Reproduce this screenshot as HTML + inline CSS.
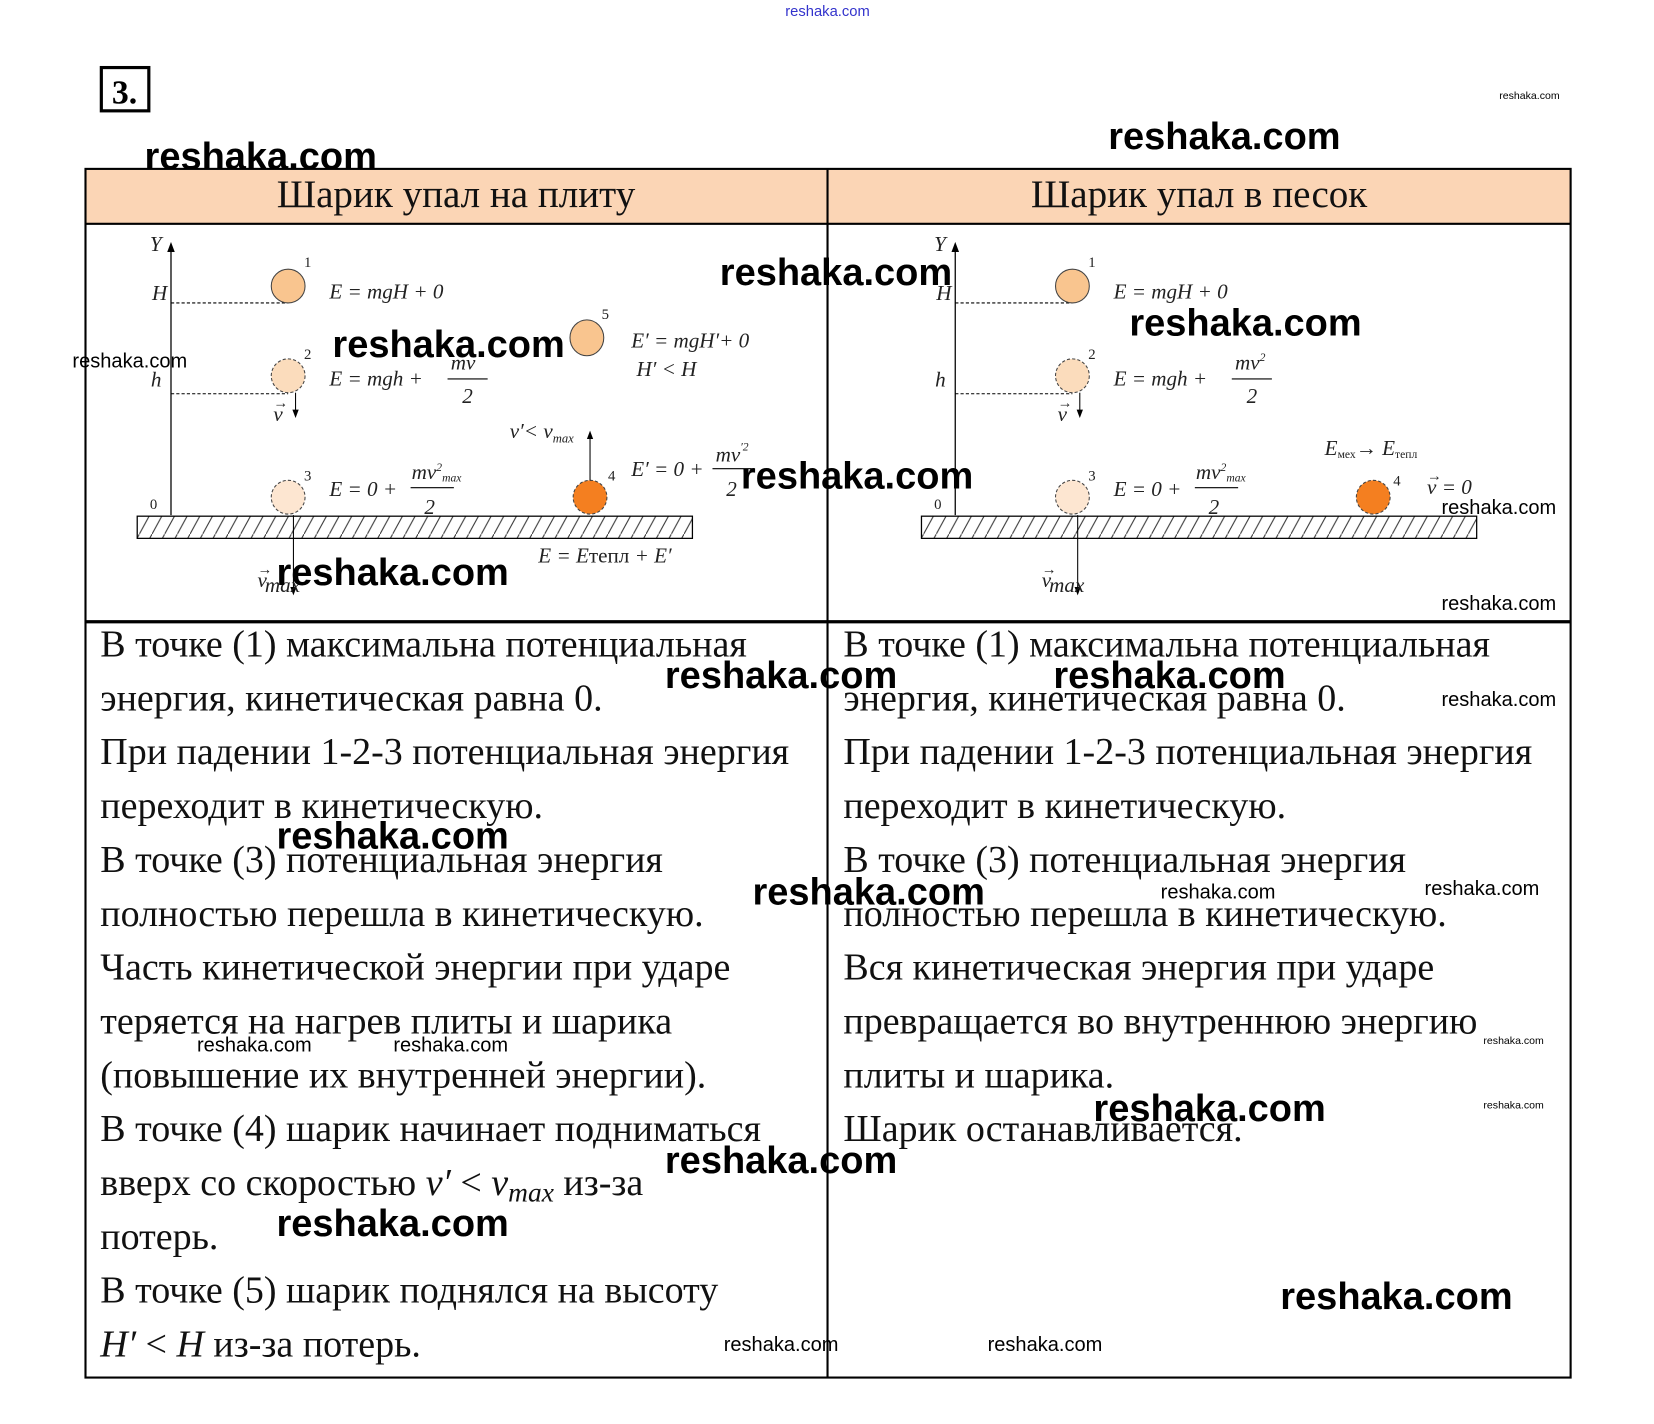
<!DOCTYPE html>
<html><head><meta charset="utf-8"><style>
html,body{margin:0;padding:0;background:#fff;}
svg{display:block;}
.t{font-family:"Liberation Serif",serif;font-size:36px;fill:#111;}
.h{font-family:"Liberation Serif",serif;font-size:37px;fill:#111;}
.m{font-family:"Liberation Serif",serif;font-style:italic;font-size:20px;fill:#222;}
.s{font-family:"Liberation Serif",serif;font-size:14px;fill:#222;}
.w{font-family:"Liberation Sans",sans-serif;font-weight:bold;font-size:36px;fill:#000;}
.ws{font-family:"Liberation Sans",sans-serif;font-size:19px;fill:#000;}
.wx{font-family:"Liberation Sans",sans-serif;font-size:10px;fill:#000;}
</style></head><body>
<svg width="1654" height="1424" viewBox="0 0 1567 1349" preserveAspectRatio="none" xmlns="http://www.w3.org/2000/svg">
<defs>
<pattern id="hat" width="12" height="22" patternUnits="userSpaceOnUse">
<line x1="0" y1="22" x2="12" y2="0" stroke="#333" stroke-width="1"/>
</pattern>
<marker id="ar" markerWidth="8" markerHeight="8" refX="4" refY="4" orient="auto"><path d="M0,1 L8,4 L0,7 z" fill="#000"/></marker>
</defs>
<text x="784" y="15" text-anchor="middle" font-family="Liberation Sans,sans-serif" font-size="14" fill="#3333cc">reshaka.com</text>
<rect x="96" y="64" width="45" height="41" fill="none" stroke="#000" stroke-width="3"/>
<text x="118" y="98" text-anchor="middle" font-family="Liberation Serif,serif" font-weight="bold" font-size="32">3.</text>
<text x="1449" y="94" text-anchor="middle" class="wx">reshaka.com</text>
<text x="1160" y="141" text-anchor="middle" class="w">reshaka.com</text>
<text x="247" y="160" text-anchor="middle" class="w">reshaka.com</text>
<!-- table -->
<rect x="81" y="161" width="1407" height="51" fill="#fbd5b5"/>
<rect x="81" y="160" width="1407" height="1145" fill="none" stroke="#000" stroke-width="2"/>
<line x1="81" y1="212" x2="1488" y2="212" stroke="#000" stroke-width="2"/>
<line x1="81" y1="589" x2="1488" y2="589" stroke="#000" stroke-width="3"/>
<line x1="784" y1="160" x2="784" y2="1305" stroke="#000" stroke-width="2"/>
<text x="432" y="196" text-anchor="middle" class="h">Шарик упал на плиту</text>
<text x="1136" y="196" text-anchor="middle" class="h">Шарик упал в песок</text>

<!-- left diagram -->
<g>
<line x1="162" y1="488" x2="162" y2="234" stroke="#000" stroke-width="1.2" marker-end="url(#ar)"/>
<text x="142" y="238" class="m">Y</text>
<text x="144" y="284" class="m" font-size="17">H</text>
<text x="143" y="366" class="m">h</text>
<text x="142" y="482" class="s" font-size="18">0</text>
<line x1="162" y1="287" x2="273" y2="287" stroke="#000" stroke-dasharray="3,2"/>
<line x1="162" y1="373" x2="273" y2="373" stroke="#000" stroke-dasharray="3,2"/>
<rect x="130" y="489" width="526" height="21" fill="url(#hat)" stroke="#000" stroke-width="1.2"/>
<ellipse cx="273" cy="271" rx="16" ry="16" fill="#f9c58f" stroke="#444"/>
<text x="288" y="253" class="s">1</text>
<ellipse cx="273" cy="356" rx="16" ry="16" fill="#fbdcbc" stroke="#444" stroke-dasharray="3,2"/>
<text x="288" y="340" class="s">2</text>
<line x1="280" y1="372" x2="280" y2="392" stroke="#000" marker-end="url(#ar)"/>
<text x="259" y="399" class="m" font-size="17">v</text><text x="259" y="386" class="s" font-size="12">→</text>
<ellipse cx="273" cy="471" rx="16" ry="16" fill="#fde6d1" stroke="#444" stroke-dasharray="3,2"/>
<text x="288" y="455" class="s">3</text>
<line x1="278" y1="488" x2="278" y2="560" stroke="#000" marker-end="url(#ar)"/>
<text x="244" y="556" class="m" font-size="15">v</text><text x="244" y="544" class="s" font-size="11">→</text><text x="251" y="561" class="m" font-size="10">max</text>
<ellipse cx="556" cy="320" rx="16" ry="17" fill="#f9c58f" stroke="#444"/>
<text x="570" y="302" class="s">5</text>
<ellipse cx="559" cy="471" rx="16" ry="16" fill="#f47f20" stroke="#444" stroke-dasharray="3,2"/>
<text x="576" y="455" class="s">4</text>
<line x1="559" y1="455" x2="559" y2="412" stroke="#000" marker-end="url(#ar)"/>
<text x="483" y="415" class="m">v′&lt; v<tspan font-size="12" dy="4">max</tspan></text>
<text x="312" y="283" class="m">E  = mgH + 0</text>
<text x="312" y="365" class="m">E  = mgh +</text>
<line x1="424" y1="359" x2="462" y2="359" stroke="#000"/>
<text x="427" y="350" class="m">mv</text>
<text x="438" y="382" class="m">2</text>
<text x="598" y="329" class="m">E′ = mgH′+ 0</text>
<text x="603" y="356" class="m">H′ &lt; H</text>
<text x="312" y="470" class="m">E  = 0 +</text>
<line x1="389" y1="462" x2="430" y2="462" stroke="#000"/>
<text x="390" y="454" class="m">mv<tspan font-size="11" dy="-8">2</tspan><tspan font-size="11" dy="10">max</tspan></text>
<text x="402" y="487" class="m">2</text>
<text x="598" y="451" class="m">E′ = 0 +</text>
<line x1="675" y1="444" x2="712" y2="444" stroke="#000"/>
<text x="678" y="437" class="m">mv<tspan font-size="11" dy="-10">′2</tspan></text>
<text x="688" y="470" class="m">2</text>
<text x="510" y="533" class="m">E = E<tspan font-style="normal">тепл</tspan> + E′</text>
</g>

<!-- right diagram -->
<g transform="translate(743,0)">
<line x1="162" y1="488" x2="162" y2="234" stroke="#000" stroke-width="1.2" marker-end="url(#ar)"/>
<text x="142" y="238" class="m">Y</text>
<text x="144" y="284" class="m" font-size="17">H</text>
<text x="143" y="366" class="m">h</text>
<text x="142" y="482" class="s" font-size="18">0</text>
<line x1="162" y1="287" x2="273" y2="287" stroke="#000" stroke-dasharray="3,2"/>
<line x1="162" y1="373" x2="273" y2="373" stroke="#000" stroke-dasharray="3,2"/>
<rect x="130" y="489" width="526" height="21" fill="url(#hat)" stroke="#000" stroke-width="1.2"/>
<ellipse cx="273" cy="271" rx="16" ry="16" fill="#f9c58f" stroke="#444"/>
<text x="288" y="253" class="s">1</text>
<ellipse cx="273" cy="356" rx="16" ry="16" fill="#fbdcbc" stroke="#444" stroke-dasharray="3,2"/>
<text x="288" y="340" class="s">2</text>
<line x1="280" y1="372" x2="280" y2="392" stroke="#000" marker-end="url(#ar)"/>
<text x="259" y="399" class="m" font-size="17">v</text><text x="259" y="386" class="s" font-size="12">→</text>
<ellipse cx="273" cy="471" rx="16" ry="16" fill="#fde6d1" stroke="#444" stroke-dasharray="3,2"/>
<text x="288" y="455" class="s">3</text>
<line x1="278" y1="488" x2="278" y2="560" stroke="#000" marker-end="url(#ar)"/>
<text x="244" y="556" class="m" font-size="15">v</text><text x="244" y="544" class="s" font-size="11">→</text><text x="251" y="561" class="m" font-size="10">max</text>
<ellipse cx="558" cy="471" rx="16" ry="16" fill="#f47f20" stroke="#444" stroke-dasharray="3,2"/>
<text x="577" y="460" class="s">4</text>
<text x="609" y="468" class="m" font-size="17">v = 0</text><text x="609" y="455" class="s" font-size="11">→</text>
<text x="512" y="431" class="m" font-size="16">E<tspan font-size="11" dy="3" font-style="normal">мех</tspan><tspan dy="-3">→ E</tspan><tspan font-size="11" dy="3" font-style="normal">тепл</tspan></text>
<text x="312" y="283" class="m">E  = mgH + 0</text>
<text x="312" y="365" class="m">E  = mgh +</text>
<line x1="424" y1="359" x2="462" y2="359" stroke="#000"/>
<text x="427" y="350" class="m">mv<tspan font-size="11" dy="-8">2</tspan></text>
<text x="438" y="382" class="m">2</text>
<text x="312" y="470" class="m">E  = 0 +</text>
<line x1="389" y1="462" x2="430" y2="462" stroke="#000"/>
<text x="390" y="454" class="m">mv<tspan font-size="11" dy="-8">2</tspan><tspan font-size="11" dy="10">max</tspan></text>
<text x="402" y="487" class="m">2</text>
</g>

<!-- left text -->
<g class="t">
<text x="95" y="622">В точке (1) максимальна потенциальная</text>
<text x="95" y="673">энергия, кинетическая равна 0.</text>
<text x="95" y="724">При падении 1-2-3 потенциальная энергия</text>
<text x="95" y="775">переходит в кинетическую.</text>
<text x="95" y="826">В точке (3) потенциальная энергия</text>
<text x="95" y="877">полностью перешла в кинетическую.</text>
<text x="95" y="928">Часть кинетической энергии при ударе</text>
<text x="95" y="979">теряется на нагрев плиты и шарика</text>
<text x="95" y="1030">(повышение их внутренней энергии).</text>
<text x="95" y="1081">В точке (4) шарик начинает подниматься</text>
<text x="95" y="1132">вверх со скоростью <tspan font-style="italic">v′</tspan> &lt; <tspan font-style="italic">v<tspan font-size="26" dy="6">max</tspan></tspan><tspan dy="-6"> из-за</tspan></text>
<text x="95" y="1183">потерь.</text>
<text x="95" y="1234">В точке (5) шарик поднялся на высоту</text>
<text x="95" y="1285"><tspan font-style="italic">H′</tspan> &lt; <tspan font-style="italic">H</tspan> из-за потерь.</text>
</g>
<!-- right text -->
<g class="t">
<text x="799" y="622">В точке (1) максимальна потенциальная</text>
<text x="799" y="673">энергия, кинетическая равна 0.</text>
<text x="799" y="724">При падении 1-2-3 потенциальная энергия</text>
<text x="799" y="775">переходит в кинетическую.</text>
<text x="799" y="826">В точке (3) потенциальная энергия</text>
<text x="799" y="877">полностью перешла в кинетическую.</text>
<text x="799" y="928">Вся кинетическая энергия при ударе</text>
<text x="799" y="979">превращается во внутреннюю энергию</text>
<text x="799" y="1030">плиты и шарика.</text>
<text x="799" y="1081">Шарик останавливается.</text>
</g>

<!-- watermarks -->
<text x="792" y="270" text-anchor="middle" class="w">reshaka.com</text>
<text x="1180" y="318" text-anchor="middle" class="w">reshaka.com</text>
<text x="425" y="338" text-anchor="middle" class="w">reshaka.com</text>
<text x="123" y="348" text-anchor="middle" class="ws" font-size="15">reshaka.com</text>
<text x="812" y="463" text-anchor="middle" class="w">reshaka.com</text>
<text x="1420" y="487" text-anchor="middle" class="ws">reshaka.com</text>
<text x="372" y="554" text-anchor="middle" class="w">reshaka.com</text>
<text x="1420" y="578" text-anchor="middle" class="ws">reshaka.com</text>
<text x="740" y="652" text-anchor="middle" class="w">reshaka.com</text>
<text x="1108" y="652" text-anchor="middle" class="w">reshaka.com</text>
<text x="1420" y="669" text-anchor="middle" class="ws">reshaka.com</text>
<text x="372" y="804" text-anchor="middle" class="w">reshaka.com</text>
<text x="823" y="857" text-anchor="middle" class="w">reshaka.com</text>
<text x="1154" y="851" text-anchor="middle" class="ws" font-size="22">reshaka.com</text>
<text x="1404" y="848" text-anchor="middle" class="ws" font-size="22">reshaka.com</text>
<text x="241" y="996" text-anchor="middle" class="ws">reshaka.com</text>
<text x="427" y="996" text-anchor="middle" class="ws">reshaka.com</text>
<text x="1434" y="989" text-anchor="middle" class="wx">reshaka.com</text>
<text x="1146" y="1062" text-anchor="middle" class="w">reshaka.com</text>
<text x="1434" y="1050" text-anchor="middle" class="wx">reshaka.com</text>
<text x="740" y="1111" text-anchor="middle" class="w">reshaka.com</text>
<text x="372" y="1171" text-anchor="middle" class="w">reshaka.com</text>
<text x="1323" y="1240" text-anchor="middle" class="w">reshaka.com</text>
<text x="740" y="1280" text-anchor="middle" class="ws" font-size="24">reshaka.com</text>
<text x="990" y="1280" text-anchor="middle" class="ws" font-size="24">reshaka.com</text>
</svg>
</body></html>
